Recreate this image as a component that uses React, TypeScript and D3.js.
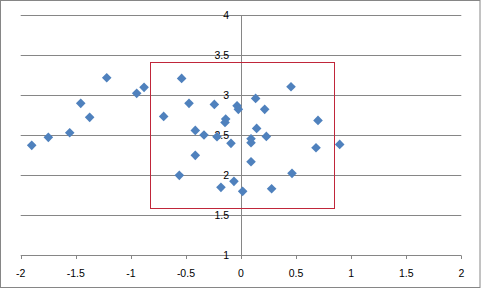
import React from "react";
import * as d3 from "d3";

const xValues = [
  -1.9, -1.749, -1.555, -1.455, -1.374, -1.219, -0.947, -0.88, -0.702, -0.539,
  -0.472, -0.56, -0.415, -0.415, -0.336, -0.242, -0.218, -0.182, -0.139, -0.145,
  -0.091, -0.064, -0.036, -0.024, 0.015, 0.091, 0.091, 0.091, 0.133, 0.142,
  0.215, 0.23, 0.278, 0.454, 0.463, 0.681, 0.699, 0.896,
];
const yValues = [
  2.367, 2.467, 2.525, 2.892, 2.717, 3.212, 3.017, 3.092, 2.729, 3.204,
  2.892, 1.992, 2.554, 2.242, 2.496, 2.879, 2.475, 1.842, 2.696, 2.654,
  2.392, 1.917, 2.862, 2.817, 1.792, 2.45, 2.4, 2.162, 2.954, 2.579,
  2.817, 2.479, 1.825, 3.1, 2.017, 2.337, 2.679, 2.379,
];
const xTicks = [-2, -1.5, -1, -0.5, 0, 0.5, 1, 1.5, 2];
const yTicks = [1, 1.5, 2, 2.5, 3, 3.5, 4];
const boxX = [-0.826, 0.844];
const boxY = [1.58, 3.405];

const W = 481;
const H = 290;
const left = 20.7;
const right = 461.3;
const top = 14.7;
const bottom = 254.7;

export default function App() {
  const x = d3.scaleLinear().domain([-2, 2]).range([left, right]);
  const y = d3.scaleLinear().domain([1, 4]).range([bottom, top]);
  const grid = "#868686";
  const font = "'Liberation Sans', Arial, sans-serif";
  const diamond = (cx: number, cy: number, r: number) =>
    `M${cx},${cy - r}L${cx + r},${cy}L${cx},${cy + r}L${cx - r},${cy}Z`;
  const pts = xValues.map((v, i) => [v, yValues[i]]);
  return (
    <svg
      width={W}
      height={H}
      style={{ position: "absolute", left: 0, top: 0, background: "#fff" }}
    >
      <rect x={0.5} y={0.5} width={479.5} height={287} fill="#fff" stroke={grid} strokeWidth={1} />
      {yTicks.slice(1).map((t) => (
        <line key={"g" + t} x1={left} x2={right} y1={Math.round(y(t)) + 0.5} y2={Math.round(y(t)) + 0.5} stroke={grid} strokeWidth={1} />
      ))}
      <line x1={left} x2={right} y1={Math.round(bottom) + 0.5} y2={Math.round(bottom) + 0.5} stroke={grid} strokeWidth={1} />
      {xTicks.map((t) => (
        <line key={"xt" + t} x1={Math.round(x(t)) + 0.5} x2={Math.round(x(t)) + 0.5} y1={Math.round(bottom) + 0.5} y2={Math.round(bottom) + 4} stroke={grid} strokeWidth={1} />
      ))}
      <line x1={Math.round(x(0)) + 0.5} x2={Math.round(x(0)) + 0.5} y1={Math.round(top)} y2={Math.round(bottom) + 0.5} stroke={grid} strokeWidth={1} />
      {xTicks.map((t) => (
        <text key={"xl" + t} x={x(t)} y={276.5} textAnchor="middle" fontFamily={font} fontSize={10.5} fill="#000">
          {String(t)}
        </text>
      ))}
      {yTicks.map((t) => (
        <text key={"yl" + t} x={229} y={y(t) + 3.8} textAnchor="end" fontFamily={font} fontSize={10.5} fill="#000">
          {String(t)}
        </text>
      ))}
      <rect
        x={Math.round(x(boxX[0])) + 0.5}
        y={Math.round(y(boxY[1])) + 0.5}
        width={Math.round(x(boxX[1]) - x(boxX[0]))}
        height={Math.round(y(boxY[0]) - y(boxY[1]))}
        fill="none"
        stroke="#C0263A"
        strokeWidth={1}
      />
      {pts.map(([a, b], i) => (
        <path key={i} d={diamond(x(a), y(b), 4.8)} fill="#4F81BD" />
      ))}
    </svg>
  );
}
